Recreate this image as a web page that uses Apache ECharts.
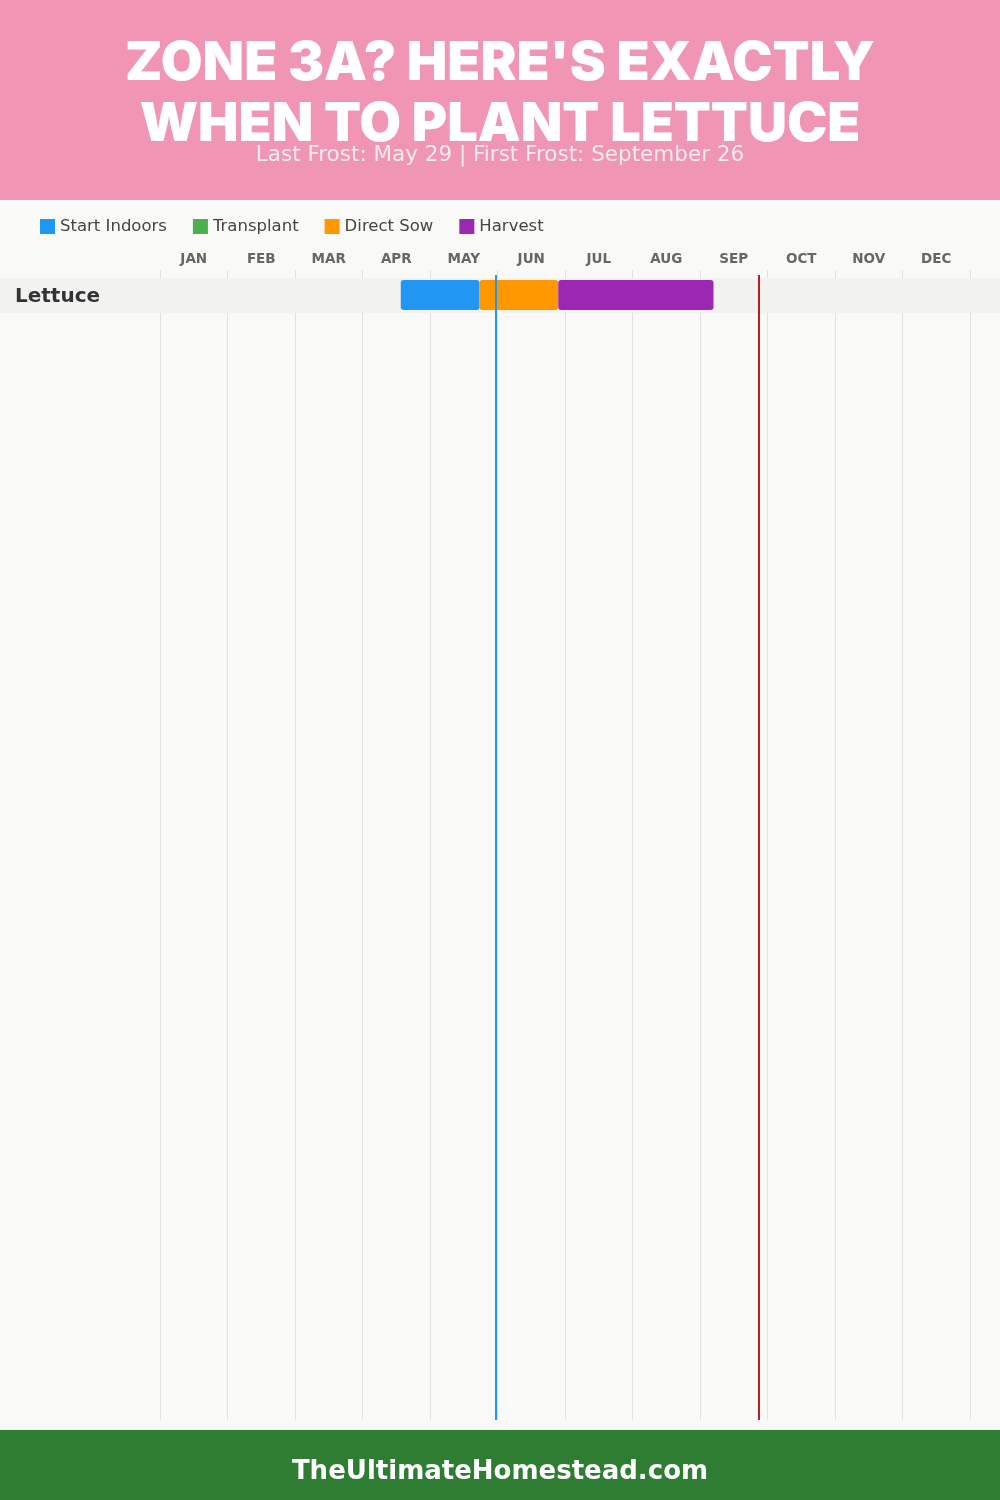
<!DOCTYPE html>
<html><head><meta charset="utf-8">
<script src="https://cdn.jsdelivr.net/npm/echarts@6/dist/echarts.min.js"></script>
<style>html,body{margin:0;padding:0;background:#f9f9f7}#c{width:1000px;height:1500px}</style>
</head><body><div id="c"></div>
<script>
// ---- data ----
const months = ['JAN','FEB','MAR','APR','MAY','JUN','JUL','AUG','SEP','OCT','NOV','DEC'];
const crops = ['Lettuce'];
const startIndoors = [['04-17', '05-22']];
const transplant = [null];
const directSow = [['05-22', '06-27']];
const harvest = [['06-27', '09-06']];
const lastFrost = '05-29';
const firstFrost = '09-26';
const titleLines = ["ZONE 3A? HERE'S EXACTLY", 'WHEN TO PLANT LETTUCE'];
const subtitle = 'Last Frost: May 29 | First Frost: September 26';
const footerText = 'TheUltimateHomestead.com';

// ---- helpers ----
function pos(s) { const p = s.split('-').map(Number); return (p[0] - 1) + p[1] / 30; }
function taskData(arr) {
  const out = [];
  arr.forEach((r, i) => { if (r) out.push([i, pos(r[0]), pos(r[1])]); });
  return out;
}

const TFONT = 'Inter, "Open Sans", sans-serif';
const FONT = '"DejaVu Sans", "Open Sans", sans-serif';
const ROW_PX = 35, ROW_OFF = 8, GRID_TOP = 270, GRID_BOTTOM = 80, H = 1500;
const gridH = H - GRID_TOP - GRID_BOTTOM;
const yMin = -ROW_OFF / ROW_PX, yMax = yMin + gridH / ROW_PX;

function bandRender(params, api) {
  const i = api.value(0);
  const y0 = api.coord([0, i])[1], y1 = api.coord([0, i + 1])[1];
  return {
    type: 'group',
    children: [
      { type: 'rect', shape: { x: 0, y: y0, width: api.getWidth(), height: y1 - y0 }, style: { fill: '#f2f2f1' } },
      { type: 'text', x: 15, y: (y0 + y1) / 2 + 1, style: { text: crops[i], fill: '#333', font: 'bold 20px ' + FONT, align: 'left', verticalAlign: 'middle', textAlign: 'left', textVerticalAlign: 'middle' } }
    ]
  };
}
function barRender(params, api) {
  const i = api.value(0);
  const a = api.coord([api.value(1), i]), b = api.coord([api.value(2), i]);
  const y0 = a[1], y1 = api.coord([0, i + 1])[1];
  return { type: 'rect', shape: { x: a[0], y: y0 + 2, width: b[0] - a[0], height: (y1 - y0) - 5, r: 3 }, style: { fill: api.visual('color') } };
}
function taskSeries(name, color, arr) {
  return { name: name, type: 'custom', renderItem: barRender, itemStyle: { color: color }, data: taskData(arr), encode: { x: [1, 2], y: 0 }, z: 3, animation: false };
}

const chart = echarts.init(document.getElementById('c'), null, { renderer: 'canvas' });
chart.setOption({
  backgroundColor: '#f9f9f7',
  animation: false,
  grid: { left: 160, right: 30, top: GRID_TOP, bottom: GRID_BOTTOM },
  legend: {
    left: 40, top: 218, padding: 0, itemWidth: 15, itemHeight: 15, itemGap: 26, itemTextGap: 6, icon: 'rect',
    data: ['Start Indoors', 'Transplant', 'Direct Sow', 'Harvest'],
    textStyle: { color: '#444', fontSize: 16.5, fontFamily: FONT }
  },
  xAxis: [
    { type: 'value', min: 0, max: 12, interval: 1, position: 'top',
      axisLine: { show: false }, axisTick: { show: false }, axisLabel: { show: false },
      splitLine: { show: true, lineStyle: { color: '#e0e0e0', width: 1 } } },
    { type: 'category', data: months, position: 'top', boundaryGap: true,
      axisLine: { show: false }, axisTick: { show: false }, splitLine: { show: false },
      axisLabel: { color: '#666', fontWeight: 'bold', fontSize: 13.5, fontFamily: FONT, margin: 4 } }
  ],
  yAxis: { type: 'value', inverse: true, min: yMin, max: yMax, show: false, splitLine: { show: false } },
  graphic: [
    { type: 'rect', left: 0, top: 0, shape: { width: 1000, height: 200 }, style: { fill: '#f095b4' }, z: 100 },
    { type: 'text', x: 500, y: 64, z: 101, style: { text: titleLines[0], fill: '#fff', font: '900 54px ' + TFONT, align: 'center', verticalAlign: 'middle', textAlign: 'center', textVerticalAlign: 'middle' } },
    { type: 'text', x: 500, y: 125, z: 101, style: { text: titleLines[1], fill: '#fff', font: '900 54px ' + TFONT, align: 'center', verticalAlign: 'middle', textAlign: 'center', textVerticalAlign: 'middle' } },
    { type: 'text', x: 500, y: 155, z: 101, style: { text: subtitle, fill: '#ececec', font: '21.5px ' + FONT, align: 'center', verticalAlign: 'middle', textAlign: 'center', textVerticalAlign: 'middle' } },
    { type: 'rect', left: 0, top: 1430, shape: { width: 1000, height: 70 }, style: { fill: '#2e7d32' }, z: 100 },
    { type: 'text', x: 500, y: 1472, z: 101, style: { text: footerText, fill: '#fff', font: 'bold 26px ' + FONT, align: 'center', verticalAlign: 'middle', textAlign: 'center', textVerticalAlign: 'middle' } }
  ],
  series: [
    { name: 'rows', type: 'custom', renderItem: bandRender, data: crops.map((c, i) => [i]), encode: { y: 0 }, z: 1, silent: true },
    taskSeries('Start Indoors', '#2196f3', startIndoors),
    taskSeries('Transplant', '#4caf50', transplant),
    taskSeries('Direct Sow', '#ff9800', directSow),
    taskSeries('Harvest', '#9c27b0', harvest),
    { name: 'frost', type: 'line', data: [], z: 10, silent: true,
      markLine: { silent: true, symbol: ['none', 'none'], label: { show: false }, animation: false,
        data: [
          [{ coord: [pos(lastFrost), yMin + 5 / ROW_PX], lineStyle: { color: '#2196f3', width: 2, type: 'solid' } }, { coord: [pos(lastFrost), yMax] }],
          [{ coord: [pos(firstFrost), yMin + 5 / ROW_PX], lineStyle: { color: '#b22222', width: 2, type: 'solid' } }, { coord: [pos(firstFrost), yMax] }]
        ] } }
  ]
});
</script></body></html>
